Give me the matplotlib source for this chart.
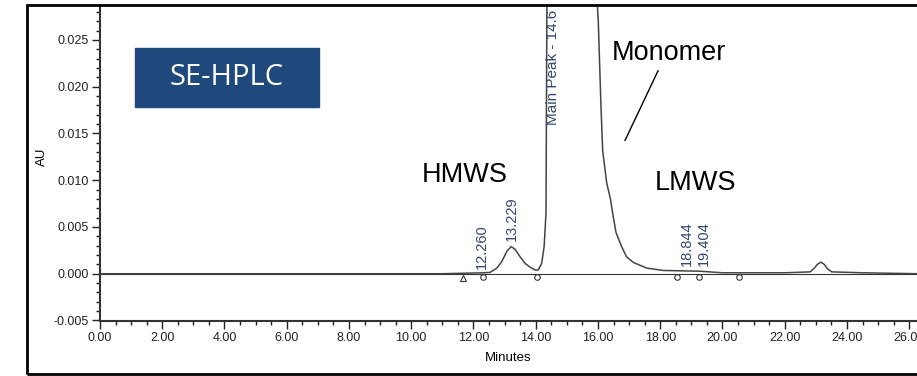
import matplotlib
matplotlib.use("Agg")
import matplotlib.pyplot as plt
from matplotlib.patches import Rectangle
from matplotlib.ticker import MultipleLocator, FormatStrFormatter

# chromatogram trace (minutes, AU)
minutes = [0.0, 5.0, 11.0, 12.3, 12.53, 12.75, 12.91, 13.07, 13.21, 13.34, 13.50,
           13.66, 13.82, 13.98, 14.08, 14.19, 14.27, 14.33, 14.36, 14.40, 14.6,
           15.0, 15.6, 16.01, 16.09, 16.15, 16.28, 16.40, 16.49, 16.58, 16.76,
           16.92, 17.14, 17.57, 18.10, 19.28, 20.0, 22.0, 22.82, 22.95, 23.05,
           23.16, 23.27, 23.38, 23.51, 24.5, 26.3]
au = [0.0, 0.0, 0.0, 0.0001, 0.00014, 0.0006, 0.0013, 0.0024, 0.0029, 0.0026,
      0.0018, 0.0011, 0.0007, 0.0004, 0.0004, 0.0011, 0.0029, 0.0065, 0.030,
      0.05, 0.12, 0.10, 0.05, 0.0270, 0.0185, 0.0132, 0.0097, 0.0080, 0.0061,
      0.0044, 0.0029, 0.0018, 0.0012, 0.0006, 0.00035, 0.00027, 0.0001, 0.0001,
      0.0002, 0.0006, 0.0010, 0.00124, 0.0010, 0.0005, 0.0002, 0.0001, 0.0]

# integration marks
tri_x = [11.67]
tri_y = [-0.00046]
mark_x = [12.32, 14.03, 18.53, 19.23, 20.54]
mark_y = [-0.00035, -0.00035, -0.00035, -0.00035, -0.00035]

# peak retention time labels
rt_labels = ["12.260", "13.229", "18.844", "19.404"]
rt_x = [12.27, 13.23, 18.85, 19.39]
rt_y = [0.0005, 0.0035, 0.0008, 0.0008]

fig = plt.figure(figsize=(9.17, 3.76), dpi=100)
ax = fig.add_axes([100 / 917, 55.5 / 376, 1 - 100 / 917, (371 - 55.5) / 376])

ax.plot(minutes, au, color="#444444", lw=1.1)
ax.axhline(0, color="#333333", lw=0.8, zorder=1)
ax.plot(tri_x, tri_y, marker="^", ls="none", ms=5, mfc="white", mec="#333333", mew=0.8)
ax.plot(mark_x, mark_y, marker="o", ls="none", ms=4, mfc="white", mec="#333333", mew=0.8)

for lab, x, y in zip(rt_labels, rt_x, rt_y):
    ax.text(x, y, lab, rotation=90, ha="center", va="bottom", fontsize=10.5,
            color="#34466a", family="Liberation Sans")
ax.text(14.56, 0.0159, "Main Peak - 14.6", rotation=90, ha="center", va="bottom",
        fontsize=11, color="#34466a", family="Liberation Sans", clip_on=True)

ax.set_xlim(0, 26.25)
ax.set_ylim(-0.005, 0.02873)
ax.xaxis.set_major_locator(MultipleLocator(2))
ax.xaxis.set_minor_locator(MultipleLocator(0.5))
ax.yaxis.set_major_locator(MultipleLocator(0.005))
ax.yaxis.set_minor_locator(MultipleLocator(0.001))
ax.xaxis.set_major_formatter(FormatStrFormatter("%.2f"))
ax.yaxis.set_major_formatter(FormatStrFormatter("%.3f"))
ax.tick_params(which="major", length=6, width=1, labelsize=9, pad=2, colors="#222222")
ax.tick_params(which="minor", length=3, width=1, colors="#222222")
for lbl in ax.get_xticklabels() + ax.get_yticklabels():
    lbl.set_family("Liberation Sans")
for s in ["top", "right"]:
    ax.spines[s].set_visible(False)
for s in ["left", "bottom"]:
    ax.spines[s].set_linewidth(1.5)
    ax.spines[s].set_color("#333333")

ax.set_xlabel("Minutes", fontsize=9.5, family="Liberation Sans", labelpad=6)
ax.set_ylabel("AU", fontsize=9.5, family="Liberation Sans")
ax.yaxis.set_label_coords(-0.064, 0.52)

# annotations
ax.text(16.45, 0.0236, "Monomer", fontsize=19.5, family="Liberation Sans", va="center")
ax.plot([17.93, 16.87], [0.0217, 0.01426], color="black", lw=1)
ax.text(11.73, 0.01053, "HMWS", fontsize=19.5, family="Liberation Sans", ha="center", va="center")
ax.text(19.12, 0.00968, "LMWS", fontsize=19.5, family="Liberation Sans", ha="center", va="center")

ax.add_patch(Rectangle((1.12, 0.01787), 5.92, 0.00628, color="#1f497d", zorder=3))
ax.text(4.08, 0.02101, "SE-HPLC", fontsize=21, family="Open Sans", color="white",
        ha="center", va="center", zorder=4)

# outer frame
fig.add_artist(Rectangle((27 / 917, 2 / 376), 1.0, 369 / 376, transform=fig.transFigure,
                         fill=False, lw=2, ec="black", clip_on=False))

fig.savefig("out.png", dpi=100)
